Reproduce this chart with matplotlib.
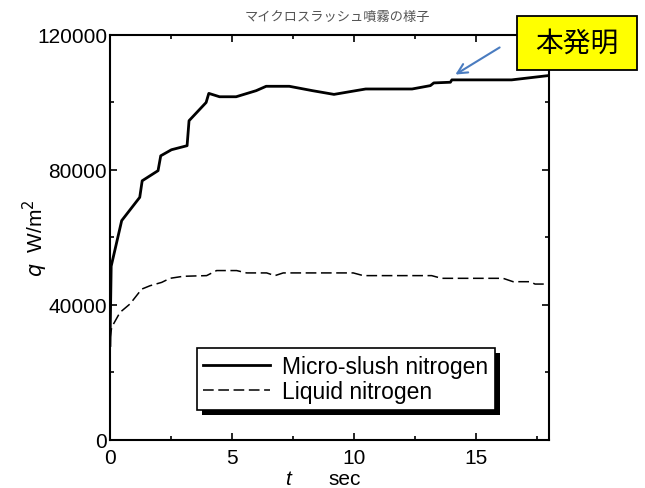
# heat flux vs time: micro-slush nitrogen vs liquid nitrogen spray
import matplotlib.pyplot as plt
from matplotlib.patches import Rectangle
from matplotlib.ticker import MultipleLocator

# data
t_slush = [0.0, 0.05, 0.48, 1.22, 1.32, 1.97, 2.08, 2.52, 3.16, 3.24, 3.94, 4.05,
           4.49, 5.17, 5.99, 6.40, 7.35, 8.30, 9.18, 10.07, 10.48, 12.38, 13.13,
           13.27, 13.95, 14.01, 16.46, 18.0]
q_slush = [28000, 51500, 65000, 71900, 76800, 79800, 84200, 86000, 87200, 94600,
           100000, 102700, 101700, 101700, 103500, 104800, 104800, 103500, 102400,
           103500, 104000, 104000, 105000, 105800, 106000, 106700, 106700, 108000]

t_liquid = [0.0, 0.07, 0.41, 0.82, 1.30, 1.64, 2.12, 2.46, 3.00, 3.96, 4.37, 5.19,
            5.60, 6.42, 6.76, 7.10, 9.97, 10.38, 13.18, 13.59, 16.11, 16.52, 17.21,
            17.42, 18.0]
q_liquid = [30000, 33400, 37800, 40300, 44700, 45700, 46700, 47900, 48500, 48700,
            50200, 50200, 49500, 49500, 48700, 49500, 49500, 48700, 48700, 47900,
            47900, 46900, 46900, 46200, 46200]

labels = ["Micro-slush nitrogen", "Liquid nitrogen"]

plt.rcParams['font.family'] = ['Liberation Sans', 'Noto Sans CJK JP', 'DejaVu Sans']

fig = plt.figure(figsize=(6.45, 4.89), dpi=100)
ax = fig.add_axes([0.1705, 0.0982, 0.681, 0.8282])

ax.plot(t_slush, q_slush, color='black', lw=2.0, label=labels[0])
ax.plot(t_liquid, q_liquid, color='black', lw=1.1, dashes=(7, 3), label=labels[1])

ax.set_xlim(0, 18)
ax.set_ylim(0, 120000)
ax.xaxis.set_major_locator(MultipleLocator(5))
ax.xaxis.set_minor_locator(MultipleLocator(2.5))
ax.yaxis.set_major_locator(MultipleLocator(40000))
ax.yaxis.set_minor_locator(MultipleLocator(20000))
ax.tick_params(which='both', direction='in', top=True, right=True, labelsize=15, width=1.2)
ax.tick_params(which='major', length=5)
ax.tick_params(which='minor', length=3)
ax.tick_params(axis='x', pad=6)
ax.tick_params(axis='y', pad=2)
for sp in ax.spines.values():
    sp.set_linewidth(1.5)

# axis labels
ax.text(0.405, -0.096, "t", transform=ax.transAxes, fontsize=15, style='italic',
        ha='center', va='center')
ax.text(0.535, -0.096, "sec", transform=ax.transAxes, fontsize=15,
        ha='center', va='center')
ax.text(-0.17, 0.5, r"$q$  W/m$^2$", transform=ax.transAxes, fontsize=15,
        rotation=90, ha='center', va='center')

leg = ax.legend(loc='upper left', bbox_to_anchor=(0.197, 0.226), borderaxespad=0,
                fontsize=16.5, frameon=True, fancybox=False, handlelength=2.9,
                handletextpad=0.55, labelspacing=0.08, borderpad=0.3)
frame = leg.get_frame()
frame.set_edgecolor('black')
frame.set_facecolor('white')
frame.set_linewidth(1.2)
frame.set_alpha(1)
leg.set_zorder(6)

# black drop shadow behind the legend box
fig.canvas.draw()
bb = leg.get_window_extent().transformed(fig.transFigure.inverted())
off_x, off_y = 5 / 645, 5 / 489
shadow = Rectangle((bb.x0 + off_x, bb.y0 - off_y), bb.width, bb.height,
                   transform=fig.transFigure, facecolor='black', edgecolor='none',
                   zorder=5, clip_on=False)
ax.add_patch(shadow)

# scanned caption at the top
fig.text(0.523, 0.965, "マイクロスラッシュ噴霧の様子", fontsize=9.5, color='#555555',
         family=['Noto Sans CJK JP'], ha='center', va='center')

# yellow callout with arrow
box = Rectangle((517 / 645, 1 - 71 / 489), 120 / 645, 54 / 489, transform=fig.transFigure,
                facecolor='#ffff00', edgecolor='black', lw=1.3)
fig.patches.append(box)
fig.text(577 / 645, 1 - 44 / 489, "本発明", fontsize=20,
         family=['Noto Sans CJK JP', 'DejaVu Sans'], ha='center', va='center')
ax.annotate("", xy=(453, 489 - 77), xycoords='figure pixels',
            xytext=(502, 489 - 47), textcoords='figure pixels',
            arrowprops=dict(arrowstyle='->,head_length=0.7,head_width=0.35',
                            color='#4a7cc0', lw=1.5))

fig.savefig("out.png", dpi=100)
